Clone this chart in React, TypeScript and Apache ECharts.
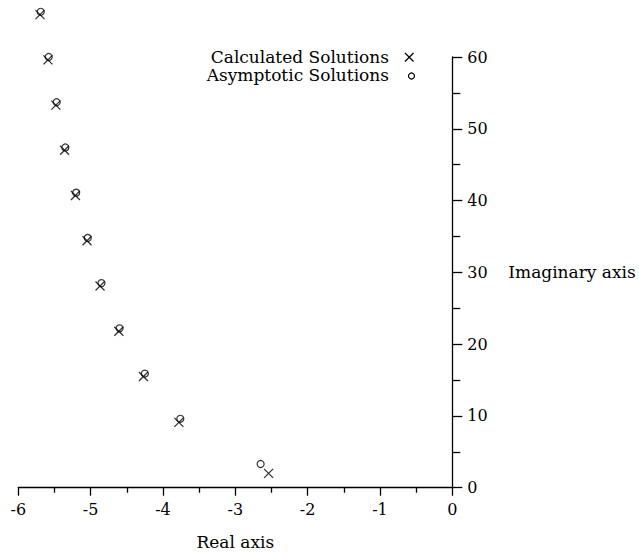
import React, { useEffect, useRef } from "react";
import * as echarts from "echarts";

const calcX = [-5.70, -5.59, -5.48, -5.36, -5.21, -5.05, -4.87, -4.61, -4.27, -3.78, -2.54];
const calcY = [65.9, 59.6, 53.3, 47.0, 40.7, 34.4, 28.1, 21.8, 15.5, 9.1, 2.0];
const asymX = [-5.69, -5.58, -5.47, -5.35, -5.20, -5.04, -4.85, -4.60, -4.25, -3.76, -2.65];
const asymY = [66.3, 60.0, 53.7, 47.4, 41.1, 34.8, 28.5, 22.2, 15.9, 9.6, 3.3];
const xTicks = [-6, -5, -4, -3, -2, -1, 0];
const yTicks = [0, 10, 20, 30, 40, 50, 60];
const legendNames = ["Calculated Solutions", "Asymptotic Solutions"];
const xName = "Real axis";
const yName = "Imaginary axis";

const FONT = "DejaVu Serif";

export default function App() {
  const ref = useRef<HTMLDivElement>(null);
  useEffect(() => {
    if (!ref.current) return;
    const chart = echarts.init(ref.current, undefined, { renderer: "svg" });
    const calcData = calcX.map((x, i) => [x, calcY[i]]);
    const asymData = asymX.map((x, i) => [x, asymY[i]]);
    chart.setOption({
      animation: false,
      backgroundColor: "#fff",
      grid: { left: 18.3, right: 186.7, top: 57, bottom: 67.3, outerBoundsMode: "none" },
      xAxis: {
        type: "value",
        min: xTicks[0],
        max: xTicks[xTicks.length - 1],
        interval: 1,
        name: xName,
        nameLocation: "middle",
        nameGap: 46,
        nameTextStyle: { fontFamily: FONT, fontSize: 17, color: "#000" },
        axisLine: { onZero: false, lineStyle: { color: "#000", width: 1.3 } },
        axisTick: { show: true, length: 8, lineStyle: { color: "#000", width: 1.3 } },
        minorTick: { show: true, splitNumber: 2, length: 5, lineStyle: { color: "#000", width: 1.3 } },
        axisLabel: { fontFamily: FONT, fontSize: 16, color: "#000", margin: 14 },
        splitLine: { show: false },
      },
      yAxis: {
        type: "value",
        position: "right",
        min: yTicks[0],
        max: yTicks[yTicks.length - 1],
        interval: 10,
        name: yName,
        nameLocation: "middle",
        nameRotate: 0,
        nameGap: 56,
        nameTextStyle: { fontFamily: FONT, fontSize: 17, color: "#000", align: "left", verticalAlign: "middle" },
        axisLine: { onZero: false, lineStyle: { color: "#000", width: 1.3 } },
        axisTick: { show: true, length: 10, lineStyle: { color: "#000", width: 1.3 } },
        minorTick: { show: true, splitNumber: 2, length: 8, lineStyle: { color: "#000", width: 1.3 } },
        axisLabel: { fontFamily: FONT, fontSize: 16, color: "#000", margin: 15 },
        splitLine: { show: false },
      },
      graphic: [
        {
          type: "text",
          x: 389,
          y: 57,
          style: { text: legendNames[0], font: `17px "${FONT}"`, fill: "#000", align: "right", verticalAlign: "middle" },
        },
        {
          type: "text",
          x: 389,
          y: 75,
          style: { text: legendNames[1], font: `17px "${FONT}"`, fill: "#000", align: "right", verticalAlign: "middle" },
        },
        { type: "line", shape: { x1: 405, y1: 53, x2: 413.5, y2: 61.5 }, style: { stroke: "#000", lineWidth: 1.2 } },
        { type: "line", shape: { x1: 413.5, y1: 53, x2: 405, y2: 61.5 }, style: { stroke: "#000", lineWidth: 1.2 } },
        { type: "circle", shape: { cx: 411.5, cy: 76, r: 3 }, style: { fill: "none", stroke: "#000", lineWidth: 1.2 } },
      ],
      series: [
        {
          name: legendNames[0],
          type: "scatter",
          clip: false,
          data: calcData,
          symbol: "path://M0,0L10,10M10,0L0,10",
          symbolSize: 9,
          itemStyle: { color: "none", borderColor: "#000", borderWidth: 1.3 },
        },
        {
          name: legendNames[1],
          type: "scatter",
          clip: false,
          data: asymData,
          symbol: "circle",
          symbolSize: 7,
          itemStyle: { color: "none", borderColor: "#000", borderWidth: 1.2 },
        },
      ],
    });
    return () => chart.dispose();
  }, []);
  return (
    <div
      ref={ref}
      style={{ position: "absolute", left: 0, top: 0, width: 639, height: 555, background: "#fff" }}
    />
  );
}
